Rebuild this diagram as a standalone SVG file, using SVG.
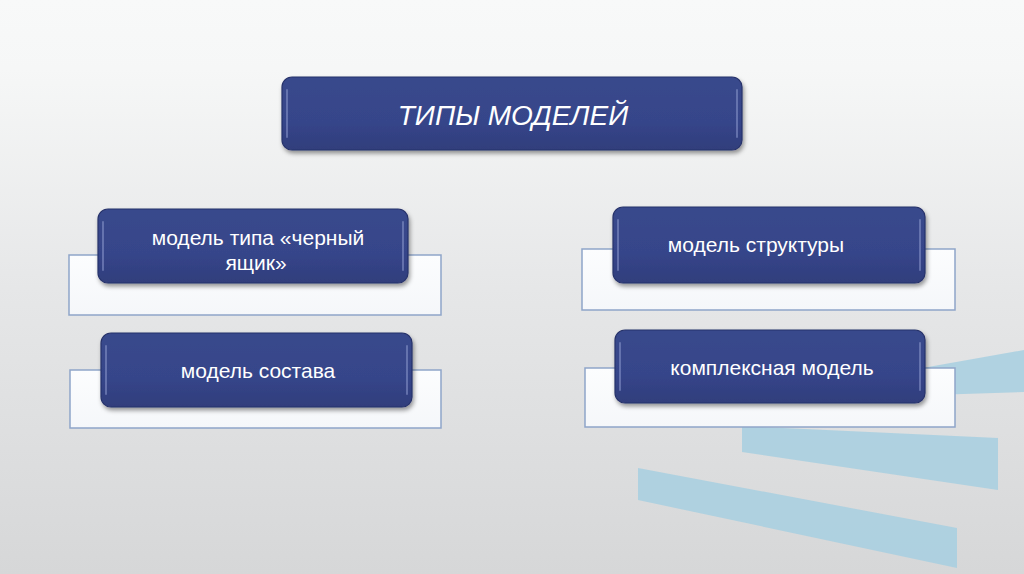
<svg xmlns="http://www.w3.org/2000/svg" width="1024" height="574" viewBox="0 0 1024 574">
<defs>
<linearGradient id="bg" x1="0" y1="0" x2="0" y2="1">
<stop offset="0" stop-color="#f8f9f9"/>
<stop offset="0.12" stop-color="#f6f7f7"/>
<stop offset="0.5" stop-color="#e6e7e8"/>
<stop offset="1" stop-color="#d6d7d8"/>
</linearGradient>
<linearGradient id="dark" x1="0" y1="0" x2="0" y2="1">
<stop offset="0" stop-color="#39498c"/>
<stop offset="0.6" stop-color="#36458a"/>
<stop offset="1" stop-color="#303e7c"/>
</linearGradient>
<linearGradient id="light" x1="0" y1="0" x2="0" y2="1">
<stop offset="0" stop-color="#fcfdfe"/>
<stop offset="1" stop-color="#f5f7fa"/>
</linearGradient>
<filter id="sh" x="-10%" y="-20%" width="120%" height="150%">
<feDropShadow dx="1.5" dy="3" stdDeviation="2" flood-color="#000" flood-opacity="0.4"/>
</filter>
</defs>
<style>
.dk{fill:url(#dark);stroke:#27336b;stroke-width:1.2;filter:url(#sh)}
.hl{fill:none;stroke:#8a98cc;stroke-width:2;stroke-linecap:round;opacity:0.55}
.wt{fill:url(#light);stroke:#8ea5c9;stroke-width:1.5}
.st{fill:#a7cfe1;opacity:0.85}
.tt{font-family:"Liberation Sans",Arial,sans-serif;fill:#ffffff;text-anchor:middle}
</style>
<rect x="0" y="0" width="1024" height="574" fill="url(#bg)"/>
<g id="stripes">
<polygon class="st" points="900,372 1024,350 1024,392 900,396"/>
<polygon class="st" points="742,426 998,438 998,490 742,452"/>
<polygon class="st" points="638,468 957,528 957,568 638,500"/>
</g>
<g id="connectors"/>
<g id="title">
<rect class="dk" x="282" y="77" width="460" height="73" rx="10"/>
<line class="hl" x1="287" y1="90" x2="287" y2="137"/>
<line class="hl" x1="737" y1="90" x2="737" y2="137"/>
<text class="tt" x="513" y="125" font-size="28" font-style="italic">ТИПЫ МОДЕЛЕЙ</text>
</g>
<g id="black-box">
<rect class="wt" x="69" y="255" width="372" height="60"/>
<rect class="dk" x="98" y="209" width="310" height="74" rx="10"/>
<line class="hl" x1="103" y1="222" x2="103" y2="270"/>
<line class="hl" x1="403" y1="222" x2="403" y2="270"/>
<text class="tt" x="258" y="245" font-size="21">модель типа «черный</text>
<text class="tt" x="256" y="270" font-size="21">ящик»</text>
</g>
<g id="composition">
<rect class="wt" x="70" y="370" width="371" height="58"/>
<rect class="dk" x="101" y="333" width="311" height="74" rx="10"/>
<line class="hl" x1="106" y1="346" x2="106" y2="394"/>
<line class="hl" x1="407" y1="346" x2="407" y2="394"/>
<text class="tt" x="258" y="378" font-size="21">модель состава</text>
</g>
<g id="structure">
<rect class="wt" x="582" y="249" width="373" height="61"/>
<rect class="dk" x="613" y="207" width="312" height="76" rx="10"/>
<line class="hl" x1="618" y1="220" x2="618" y2="270"/>
<line class="hl" x1="920" y1="220" x2="920" y2="270"/>
<text class="tt" x="756" y="252" font-size="21">модель структуры</text>
</g>
<g id="complex">
<rect class="wt" x="585" y="368" width="370" height="59"/>
<rect class="dk" x="615" y="330" width="310" height="73" rx="10"/>
<line class="hl" x1="620" y1="343" x2="620" y2="390"/>
<line class="hl" x1="920" y1="343" x2="920" y2="390"/>
<text class="tt" x="772" y="375" font-size="21">комплексная модель</text>
</g>
</svg>
